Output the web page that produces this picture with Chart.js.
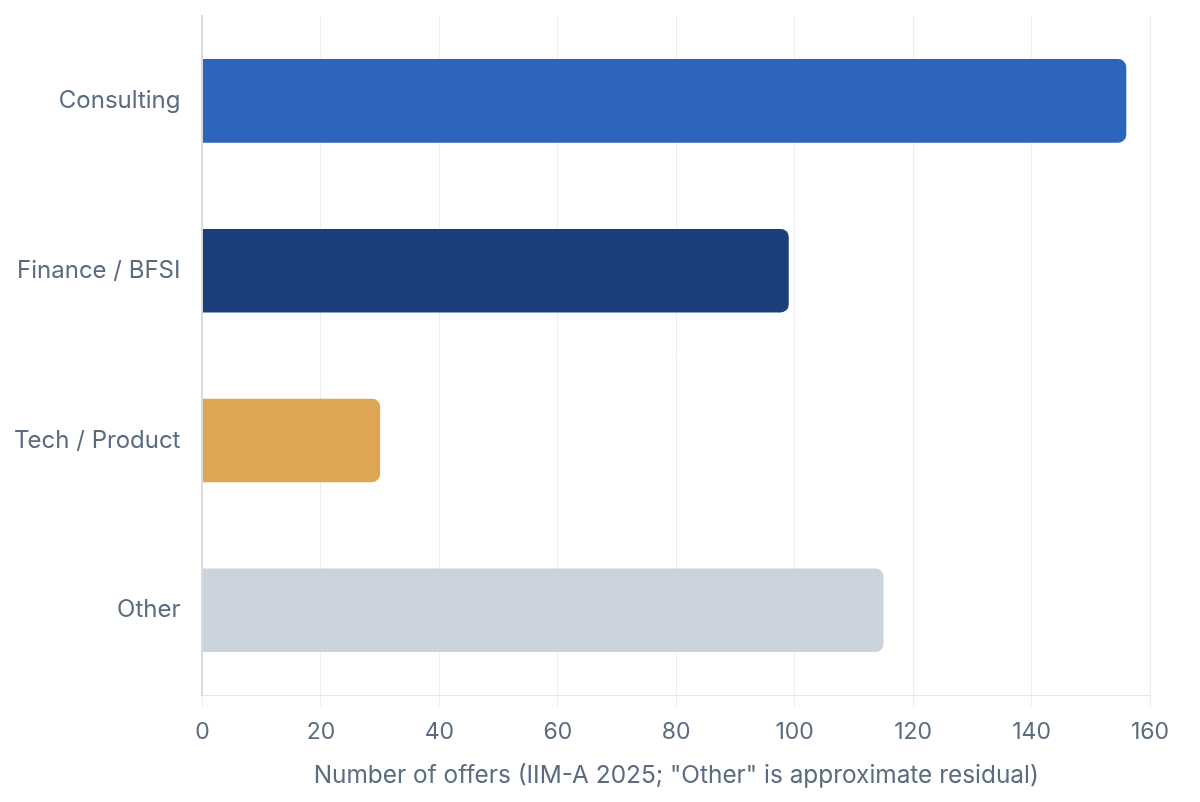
<!DOCTYPE html>
<html><head><meta charset="utf-8">
<script src="https://cdn.jsdelivr.net/npm/chart.js@4"></script>
<style>html,body{margin:0;padding:0;background:#fff}#wrap{width:1200px;height:802px;position:relative}</style>
</head><body><div id="wrap"><canvas id="c"></canvas></div>
<script>
const categories = ["Consulting", "Finance / BFSI", "Tech / Product", "Other"];
const offers = [156, 99, 30, 115];
const barColors = ["#2c65bb", "#1a3f7b", "#dea654", "#cbd4dc"];
const xTicks = [0, 20, 40, 60, 80, 100, 120, 140, 160];
const xTitle = 'Number of offers (IIM-A 2025; "Other" is approximate residual)';

Chart.defaults.font.family = "Inter, 'Noto Sans', sans-serif";
Chart.defaults.color = "#5b6b80";
new Chart(document.getElementById('c'), {
  type: 'bar',
  data: { labels: categories, datasets: [{ data: offers, backgroundColor: barColors,
    borderRadius: 8, borderSkipped: 'start', categoryPercentage: 0.8, barPercentage: 0.615 }] },
  options: {
    indexAxis: 'y', responsive: true, maintainAspectRatio: false, animation: false,
    layout: { padding: { top: 16, right: 50, bottom: 8, left: 0 } },
    plugins: { legend: { display: false }, tooltip: { enabled: false } },
    scales: {
      x: { min: 0, max: 160, afterBuildTicks: a => { a.ticks = xTicks.map(v => ({ value: v })); },
        grid: { color: "#eceef1", tickLength: 12 }, border: { color: "#e2e5e9" },
        ticks: { font: { size: 23 }, padding: 11 },
        title: { display: true, text: xTitle, font: { size: 24.4 }, padding: { top: 4 } } },
      y: { grid: { display: false }, border: { color: "#d8dce1", width: 2 },
        afterFit: s => { s.paddingTop = 0; s.paddingBottom = 0; },
        ticks: { font: { size: 24 }, padding: 14 } }
    }
  }
});
</script></body></html>
